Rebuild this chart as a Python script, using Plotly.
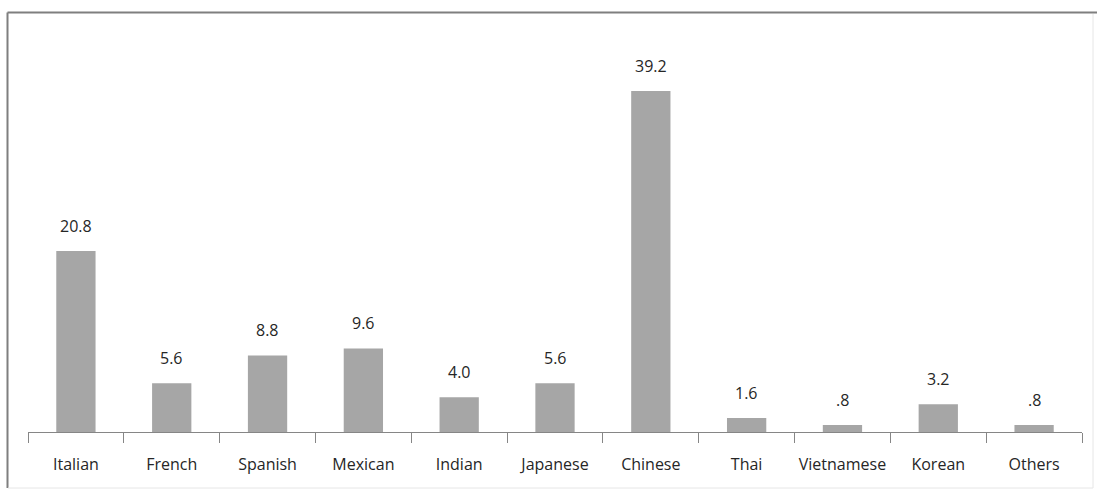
import plotly.graph_objects as go

# Cuisine preference shares (%)
cuisines = ["Italian", "French", "Spanish", "Mexican", "Indian", "Japanese",
            "Chinese", "Thai", "Vietnamese", "Korean", "Others"]
shares = [20.8, 5.6, 8.8, 9.6, 4.0, 5.6, 39.2, 1.6, 0.8, 3.2, 0.8]


def fmt(v):
    s = f"{v:.1f}"
    return s[1:] if s.startswith("0") else s


value_labels = [fmt(v) for v in shares]

W, H = 1097, 495
ML, MR, MT, MB = 28, 15, 30, 63
plot_w = W - ML - MR
plot_h = H - MT - MB
Y_MAX = 46.2

FONT = "Open Sans"
BAR = "#a6a6a6"
AXIS = "#868686"

fig = go.Figure(go.Bar(
    x=cuisines, y=shares,
    marker=dict(color=BAR, line=dict(width=0)),
    hoverinfo="skip",
))

for c, v, t in zip(cuisines, shares, value_labels):
    fig.add_annotation(x=c, y=v, text=t, showarrow=False,
                       yanchor="bottom", yshift=12,
                       font=dict(family=FONT, size=16, color="#262626"))


def px_x(p):
    return (p - ML) / plot_w


def px_y(p):
    return (H - MB - p) / plot_h


# chart frame: darker on top/left, faint on right/bottom
frame = [
    (7.5, 12.5, 1097, 12.5, "#7f7f7f", 2),
    (7.5, 12.5, 7.5, 488, "#7f7f7f", 2),
    (1093, 14, 1093, 488, "#e6e6e6", 1),
    (8, 488, 1093, 488, "#e6e6e6", 1),
]
for x0, y0, x1, y1, col, w in frame:
    fig.add_shape(type="line", xref="paper", yref="paper",
                  x0=px_x(x0), y0=px_y(y0), x1=px_x(x1), y1=px_y(y1),
                  line=dict(color=col, width=w))

fig.update_layout(
    width=W, height=H,
    margin=dict(l=ML, r=MR, t=MT, b=MB, autoexpand=False),
    paper_bgcolor="white", plot_bgcolor="white",
    bargap=0.59,
    showlegend=False,
    font=dict(family=FONT, size=16, color="#262626"),
    xaxis=dict(
        type="category",
        showline=True, linecolor=AXIS, linewidth=1,
        ticks="outside", tickson="boundaries", ticklen=10,
        tickcolor=AXIS, tickwidth=1,
        ticklabelstandoff=18, tickangle=0, automargin=False,
        showgrid=False, zeroline=False,
        tickfont=dict(family=FONT, size=16, color="#262626"),
    ),
    yaxis=dict(range=[0, Y_MAX], visible=False, showgrid=False,
               zeroline=False, automargin=False),
)

fig.write_html("out.html")
